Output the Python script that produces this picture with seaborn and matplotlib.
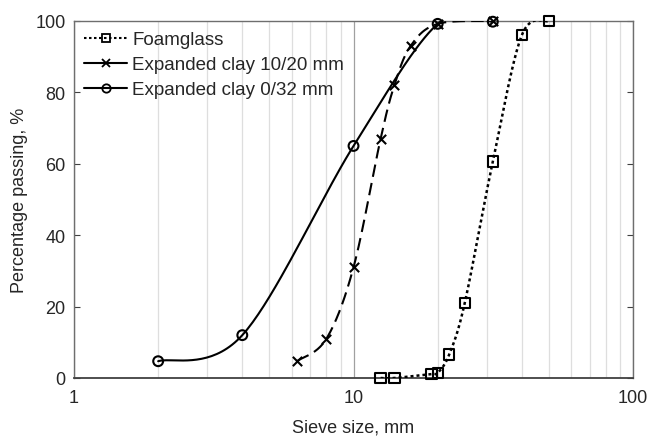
import numpy as np
import pandas as pd
import seaborn as sns
from matplotlib import pyplot as plt
from matplotlib.lines import Line2D

sns.set_style("white")
plt.rcParams["font.family"] = ["Liberation Sans", "DejaVu Sans"]

# sieve sizes (mm) and percentage passing
foam_size = [12.5, 14, 19, 20, 22, 25, 31.5, 40, 50]
foam_pass = [0, 0, 1.1, 1.4, 6.6, 21, 60.6, 96, 100]

clay1020_size = [6.3, 8, 10, 12.5, 14, 16, 20, 31.5]
clay1020_pass = [4.8, 11, 31, 67, 82, 93, 99.2, 100]

clay032_size = [2, 4, 10, 20, 31.5]
clay032_pass = [4.7, 12, 65, 99.2, 99.8]

LABELS = ["Foamglass", "Expanded clay 10/20 mm", "Expanded clay 0/32 mm"]


def smooth(xs, ys, n=40):
    # excel-like bezier smoothing, done in log-x space
    P = np.column_stack([np.log10(xs), ys])
    pts = []
    for i in range(len(P) - 1):
        p0, p3 = P[i], P[i + 1]
        prev = P[i - 1] if i > 0 else P[i]
        nxt = P[i + 2] if i + 2 < len(P) else P[i + 1]
        c1 = p0 + (p3 - prev) / 6
        c2 = p3 - (nxt - p0) / 6
        t = np.linspace(0, 1, n)[:, None]
        seg = ((1 - t) ** 3 * p0 + 3 * (1 - t) ** 2 * t * c1
               + 3 * (1 - t) * t ** 2 * c2 + t ** 3 * p3)
        pts.append(seg if i == 0 else seg[1:])
    pts = np.vstack(pts)
    return pd.DataFrame({"size": 10 ** pts[:, 0], "pass": pts[:, 1]})


fig = plt.figure(figsize=(6.51, 4.39), dpi=100)
ax = fig.add_axes([0.1137, 0.1367, 0.8587, 0.8132])

series = [
    (foam_size, foam_pass, (0, (1.2, 1.2)), "s", 1.8),
    (clay1020_size, clay1020_pass, (0, (6, 3)), "x", 1.5),
    (clay032_size, clay032_pass, "-", "o", 1.5),
]

handles = []
for (xs, ys, ls, mk, lw), lab in zip(series, LABELS):
    curve = smooth(xs, ys)
    sns.lineplot(data=curve, x="size", y="pass", sort=False, estimator=None,
                 color="black", lw=lw, ax=ax, zorder=3)
    ax.lines[-1].set_linestyle(ls)
    pts = pd.DataFrame({"size": xs, "pass": ys})
    if mk == "x":
        sns.scatterplot(data=pts, x="size", y="pass", marker="x", s=45,
                        color="black", linewidth=1.5, ax=ax, zorder=4, clip_on=False)
    else:
        sns.scatterplot(data=pts, x="size", y="pass", marker=mk, s=55 if mk == "s" else 50,
                        facecolor="none", edgecolor="black", linewidth=1.5,
                        ax=ax, zorder=4, clip_on=False)
    handles.append(Line2D([], [], color="black", lw=1.5,
                          ls=(0, (1.2, 1.2)) if mk == "s" else "-",
                          marker=mk, markersize=6,
                          markerfacecolor="none", markeredgewidth=1.3))

ax.set_xscale("log")
ax.set_xlim(1, 100)
ax.set_ylim(0, 100)
ax.set_yticks(np.arange(0, 101, 20))
ax.set_xticks([1, 10, 100])
ax.set_xticklabels(["1", "10", "100"])

ax.xaxis.grid(True, which="minor", color="#dedede", lw=0.9)
ax.xaxis.grid(True, which="major", color="#a0a0a0", lw=0.9)
ax.yaxis.grid(False)
ax.set_axisbelow(True)

for s in ax.spines.values():
    s.set_color("#6e6e6e")
    s.set_linewidth(1.0)
ax.spines["bottom"].set_color("#404040")
ax.spines["bottom"].set_linewidth(1.3)

ax.tick_params(axis="y", direction="in", length=4, right=True, left=True,
               color="#404040", labelsize=13, pad=6, labelcolor="#262626")
ax.tick_params(axis="x", which="both", length=0, labelsize=13, pad=8,
               labelcolor="#262626")

ax.set_xlabel("Sieve size, mm", fontsize=13, labelpad=9, color="#262626")
ax.set_ylabel("Percentage passing, %", fontsize=13, labelpad=5, color="#262626")

leg = ax.legend(handles, LABELS, loc="upper left", frameon=False, fontsize=13.5,
                handlelength=2.3, handletextpad=0.25, labelspacing=0.42,
                borderaxespad=0.15, bbox_to_anchor=(0.0, 1.0))
for t in leg.get_texts():
    t.set_color("#262626")

fig.savefig("out.png", dpi=100)
